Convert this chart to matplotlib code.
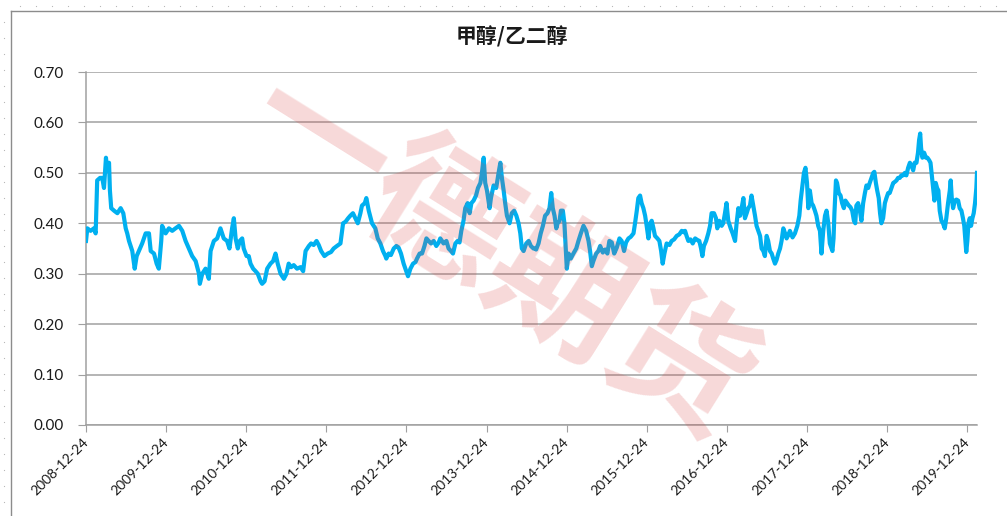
import matplotlib
matplotlib.use("Agg")
import matplotlib.pyplot as plt
from matplotlib.lines import Line2D
import numpy as np
import pandas as pd

plt.rcParams['font.family'] = ['Lato', 'Noto Sans CJK SC', 'DejaVu Sans']

title = "甲醇/乙二醇"
watermark = "一德期货"

# methanol / ethylene glycol price ratio
dates = [
    "2008-12-24", "2008-12-30", "2009-01-14", "2009-01-29", "2009-02-06", "2009-02-13",
    "2009-02-26", "2009-03-08", "2009-03-16", "2009-03-25", "2009-03-31", "2009-04-08",
    "2009-04-12", "2009-04-18", "2009-05-01", "2009-05-16", "2009-05-31", "2009-06-12",
    "2009-06-23", "2009-06-30", "2009-07-08", "2009-07-23", "2009-08-03", "2009-08-12",
    "2009-08-22", "2009-09-06", "2009-09-22", "2009-10-07", "2009-10-15", "2009-10-30",
    "2009-11-11", "2009-11-21", "2009-12-02", "2009-12-06", "2009-12-22", "2010-01-06",
    "2010-01-21", "2010-02-05", "2010-02-21", "2010-03-08", "2010-03-23", "2010-04-07",
    "2010-04-22", "2010-05-08", "2010-05-23", "2010-05-27", "2010-06-07", "2010-06-22",
    "2010-07-07", "2010-07-15", "2010-07-30", "2010-08-14", "2010-08-29", "2010-09-13",
    "2010-09-28", "2010-10-09", "2010-10-21", "2010-10-29", "2010-11-06", "2010-11-16",
    "2010-11-25", "2010-12-06", "2010-12-13", "2010-12-26", "2011-01-05", "2011-01-13",
    "2011-01-25", "2011-02-05", "2011-02-15", "2011-02-28", "2011-03-07", "2011-03-18",
    "2011-03-30", "2011-04-14", "2011-04-26", "2011-05-07", "2011-05-17", "2011-05-30",
    "2011-06-14", "2011-06-26", "2011-07-06", "2011-07-17", "2011-07-29", "2011-08-13",
    "2011-08-29", "2011-09-10", "2011-09-21", "2011-10-06", "2011-10-16", "2011-10-28",
    "2011-11-10", "2011-11-20", "2011-12-01", "2011-12-16", "2011-12-31", "2012-01-15",
    "2012-01-27", "2012-02-11", "2012-02-27", "2012-03-10", "2012-03-21", "2012-04-02",
    "2012-04-12", "2012-04-24", "2012-05-05", "2012-05-16", "2012-05-28", "2012-06-04",
    "2012-06-17", "2012-06-24", "2012-07-05", "2012-07-20", "2012-08-04", "2012-08-15",
    "2012-08-27", "2012-09-08", "2012-09-19", "2012-09-23", "2012-10-04", "2012-10-14",
    "2012-10-27", "2012-11-08", "2012-11-18", "2012-11-29", "2012-12-11", "2012-12-23",
    "2012-12-31", "2013-01-11", "2013-01-23", "2013-02-03", "2013-02-10", "2013-02-22",
    "2013-03-05", "2013-03-16", "2013-03-25", "2013-04-04", "2013-04-15", "2013-04-27",
    "2013-05-09", "2013-05-20", "2013-05-27", "2013-06-04", "2013-06-11", "2013-06-24",
    "2013-07-04", "2013-07-15", "2013-07-24", "2013-08-04", "2013-08-14", "2013-08-23",
    "2013-08-31", "2013-09-10", "2013-09-18", "2013-09-29", "2013-10-08", "2013-10-16",
    "2013-10-26", "2013-11-06", "2013-11-15", "2013-11-26", "2013-12-03", "2013-12-11",
    "2013-12-18", "2013-12-26", "2014-01-07", "2014-01-13", "2014-01-25", "2014-02-06",
    "2014-02-17", "2014-02-25", "2014-03-04", "2014-03-12", "2014-03-19", "2014-03-27",
    "2014-04-08", "2014-04-18", "2014-04-29", "2014-05-09", "2014-05-19", "2014-05-27",
    "2014-06-03", "2014-06-11", "2014-06-23", "2014-07-04", "2014-07-14", "2014-07-26",
    "2014-08-03", "2014-08-07", "2014-08-18", "2014-08-28", "2014-09-07", "2014-09-17",
    "2014-09-28", "2014-10-07", "2014-10-15", "2014-10-22", "2014-10-30", "2014-11-07",
    "2014-11-13", "2014-11-22", "2014-11-28", "2014-12-07", "2014-12-14", "2014-12-20",
    "2014-12-25", "2015-01-02", "2015-01-12", "2015-01-24", "2015-02-06", "2015-02-16",
    "2015-02-27", "2015-03-11", "2015-03-23", "2015-04-03", "2015-04-10", "2015-04-18",
    "2015-04-25", "2015-05-08", "2015-05-18", "2015-05-26", "2015-06-07", "2015-06-18",
    "2015-06-28", "2015-07-07", "2015-07-18", "2015-07-29", "2015-08-10", "2015-08-22",
    "2015-09-01", "2015-09-12", "2015-09-21", "2015-10-02", "2015-10-12", "2015-10-25",
    "2015-11-01", "2015-11-09", "2015-11-16", "2015-11-24", "2015-12-01", "2015-12-09",
    "2015-12-17", "2015-12-24", "2016-01-01", "2016-01-09", "2016-01-16", "2016-01-24",
    "2016-01-31", "2016-02-11", "2016-02-20", "2016-02-28", "2016-03-06", "2016-03-14",
    "2016-03-24", "2016-04-06", "2016-04-16", "2016-04-27", "2016-05-09", "2016-05-21",
    "2016-06-01", "2016-06-11", "2016-06-16", "2016-06-23", "2016-07-01", "2016-07-11",
    "2016-07-21", "2016-08-01", "2016-08-11", "2016-08-20", "2016-08-28", "2016-09-03",
    "2016-09-10", "2016-09-20", "2016-09-30", "2016-10-08", "2016-10-15", "2016-10-26",
    "2016-11-04", "2016-11-10", "2016-11-19", "2016-11-30", "2016-12-07", "2016-12-15",
    "2016-12-22", "2016-12-30", "2017-01-10", "2017-01-19", "2017-01-30", "2017-02-06",
    "2017-02-14", "2017-02-22", "2017-03-01", "2017-03-09", "2017-03-16", "2017-03-24",
    "2017-03-31", "2017-04-08", "2017-04-15", "2017-04-23", "2017-05-01", "2017-05-08",
    "2017-05-16", "2017-05-24", "2017-05-31", "2017-06-08", "2017-06-15", "2017-06-23",
    "2017-06-30", "2017-07-08", "2017-07-16", "2017-07-23", "2017-07-31", "2017-08-07",
    "2017-08-15", "2017-08-23", "2017-08-30", "2017-09-07", "2017-09-15", "2017-09-22",
    "2017-09-30", "2017-10-07", "2017-10-19", "2017-10-30", "2017-11-10", "2017-11-19",
    "2017-11-25", "2017-12-02", "2017-12-10", "2017-12-17", "2017-12-24", "2017-12-30",
    "2018-01-06", "2018-01-14", "2018-01-21", "2018-01-29", "2018-02-05", "2018-02-13",
    "2018-02-21", "2018-02-28", "2018-03-08", "2018-03-16", "2018-03-23", "2018-03-31",
    "2018-04-07", "2018-04-15", "2018-04-19", "2018-04-24", "2018-04-28", "2018-05-05",
    "2018-05-10", "2018-05-18", "2018-05-26", "2018-06-02", "2018-06-10", "2018-06-17",
    "2018-06-25", "2018-07-03", "2018-07-10", "2018-07-18", "2018-07-26", "2018-08-01",
    "2018-08-06", "2018-08-14", "2018-08-22", "2018-08-29", "2018-09-06", "2018-09-14",
    "2018-09-21", "2018-09-29", "2018-10-06", "2018-10-14", "2018-10-22", "2018-10-27",
    "2018-11-03", "2018-11-09", "2018-11-16", "2018-11-22", "2018-11-28", "2018-12-06",
    "2018-12-14", "2018-12-21", "2018-12-29", "2019-01-05", "2019-01-13", "2019-01-21",
    "2019-01-28", "2019-02-05", "2019-02-12", "2019-02-20", "2019-02-27", "2019-03-07",
    "2019-03-15", "2019-03-22", "2019-03-30", "2019-04-07", "2019-04-14", "2019-04-22",
    "2019-04-29", "2019-05-07", "2019-05-14", "2019-05-19", "2019-05-24", "2019-05-28",
    "2019-06-03", "2019-06-11", "2019-06-19", "2019-06-26", "2019-07-04", "2019-07-10",
    "2019-07-16", "2019-07-22", "2019-07-28", "2019-08-03", "2019-08-09", "2019-08-15",
    "2019-08-21", "2019-08-29", "2019-09-05", "2019-09-13", "2019-09-20", "2019-09-28",
    "2019-10-06", "2019-10-10", "2019-10-15", "2019-10-21", "2019-10-29", "2019-11-05",
    "2019-11-13", "2019-11-20", "2019-11-28", "2019-12-05", "2019-12-11", "2019-12-16",
    "2019-12-20", "2019-12-25", "2019-12-30", "2020-01-05", "2020-01-11", "2020-01-17",
    "2020-01-23", "2020-01-29", "2020-02-04", "2020-02-07",
]
ratio = [
    0.365, 0.39, 0.385, 0.39, 0.38, 0.485,
    0.49, 0.49, 0.47, 0.53, 0.505, 0.52,
    0.465, 0.43, 0.425, 0.42, 0.43, 0.42,
    0.39, 0.38, 0.365, 0.345, 0.31, 0.335,
    0.345, 0.36, 0.38, 0.38, 0.345, 0.34,
    0.32, 0.31, 0.365, 0.395, 0.38, 0.39,
    0.385, 0.39, 0.395, 0.385, 0.365, 0.35,
    0.335, 0.325, 0.30, 0.28, 0.30, 0.31,
    0.29, 0.345, 0.365, 0.37, 0.39, 0.37,
    0.365, 0.35, 0.39, 0.41, 0.37, 0.35,
    0.365, 0.37, 0.35, 0.335, 0.335, 0.32,
    0.31, 0.305, 0.30, 0.285, 0.28, 0.285,
    0.31, 0.32, 0.325, 0.34, 0.32, 0.30,
    0.29, 0.30, 0.32, 0.313, 0.317, 0.31,
    0.313, 0.305, 0.345, 0.355, 0.36, 0.357,
    0.365, 0.357, 0.345, 0.335, 0.34, 0.343,
    0.35, 0.355, 0.36, 0.40, 0.403, 0.41,
    0.415, 0.42, 0.41, 0.40, 0.42, 0.435,
    0.44, 0.45, 0.425, 0.40, 0.39, 0.37,
    0.36, 0.345, 0.335, 0.33, 0.34, 0.337,
    0.35, 0.355, 0.352, 0.34, 0.32, 0.305,
    0.295, 0.31, 0.32, 0.323, 0.33, 0.34,
    0.34, 0.355, 0.37, 0.365, 0.36, 0.365,
    0.355, 0.362, 0.37, 0.365, 0.36, 0.365,
    0.35, 0.345, 0.34, 0.36, 0.365, 0.362,
    0.385, 0.405, 0.43, 0.44, 0.42, 0.44,
    0.445, 0.455, 0.47, 0.48, 0.50, 0.53,
    0.48, 0.465, 0.43, 0.45, 0.475, 0.47,
    0.50, 0.52, 0.49, 0.465, 0.44, 0.415,
    0.40, 0.42, 0.425, 0.415, 0.40, 0.38,
    0.35, 0.345, 0.36, 0.365, 0.355, 0.35,
    0.35, 0.348, 0.36, 0.38, 0.395, 0.415,
    0.42, 0.43, 0.46, 0.43, 0.415, 0.39,
    0.40, 0.405, 0.425, 0.425, 0.40, 0.35,
    0.31, 0.34, 0.33, 0.34, 0.35, 0.365,
    0.38, 0.395, 0.385, 0.365, 0.345, 0.315,
    0.325, 0.34, 0.345, 0.355, 0.342, 0.348,
    0.34, 0.365, 0.362, 0.34, 0.352, 0.37,
    0.365, 0.345, 0.362, 0.37, 0.373, 0.38,
    0.40, 0.425, 0.45, 0.455, 0.44, 0.43,
    0.415, 0.395, 0.37, 0.40, 0.405, 0.39,
    0.375, 0.37, 0.365, 0.345, 0.32, 0.34,
    0.36, 0.357, 0.365, 0.368, 0.375, 0.378,
    0.385, 0.382, 0.385, 0.375, 0.365, 0.368,
    0.36, 0.37, 0.367, 0.365, 0.35, 0.335,
    0.355, 0.365, 0.38, 0.395, 0.42, 0.42,
    0.41, 0.39, 0.405, 0.395, 0.40, 0.42,
    0.44, 0.405, 0.39, 0.38, 0.365, 0.40,
    0.43, 0.415, 0.43, 0.45, 0.41, 0.42,
    0.43, 0.435, 0.455, 0.435, 0.415, 0.395,
    0.385, 0.375, 0.35, 0.345, 0.335, 0.375,
    0.365, 0.345, 0.34, 0.33, 0.32, 0.327,
    0.34, 0.35, 0.365, 0.39, 0.38, 0.37,
    0.377, 0.385, 0.372, 0.38, 0.395, 0.415,
    0.445, 0.47, 0.50, 0.51, 0.48, 0.43,
    0.465, 0.44, 0.435, 0.425, 0.415, 0.395,
    0.385, 0.34, 0.385, 0.415, 0.425, 0.40,
    0.36, 0.35, 0.345, 0.37, 0.42, 0.485,
    0.48, 0.46, 0.455, 0.44, 0.43, 0.445,
    0.44, 0.435, 0.432, 0.425, 0.405, 0.40,
    0.435, 0.44, 0.425, 0.405, 0.44, 0.46,
    0.475, 0.47, 0.48, 0.49, 0.50, 0.502,
    0.48, 0.465, 0.45, 0.42, 0.40, 0.41,
    0.44, 0.45, 0.46, 0.46, 0.47, 0.48,
    0.482, 0.485, 0.49, 0.49, 0.495, 0.495,
    0.50, 0.495, 0.51, 0.52, 0.515, 0.505,
    0.52, 0.52, 0.54, 0.565, 0.578, 0.55,
    0.53, 0.54, 0.53, 0.53, 0.525, 0.52,
    0.495, 0.47, 0.445, 0.48, 0.47, 0.465,
    0.425, 0.405, 0.40, 0.39, 0.41, 0.44,
    0.465, 0.485, 0.45, 0.43, 0.445, 0.447,
    0.445, 0.43, 0.425, 0.41, 0.395, 0.365,
    0.343, 0.365, 0.40, 0.41, 0.395, 0.41,
    0.42, 0.44, 0.47, 0.50,
]
tick_dates = ["2008-12-24", "2009-12-24", "2010-12-24", "2011-12-24", "2012-12-24",
              "2013-12-24", "2014-12-24", "2015-12-24", "2016-12-24", "2017-12-24",
              "2018-12-24", "2019-12-24"]
y_ticks = [0.0, 0.1, 0.2, 0.3, 0.4, 0.5, 0.6, 0.7]

x = pd.to_datetime(dates)

W, H = 1007, 516
fig = plt.figure(figsize=(W / 100, H / 100), dpi=100)
ax = fig.add_axes([86 / W, 91 / H, 891 / W, 353 / H])

ax.plot(x, ratio, color='#00b0f0', lw=3.0, solid_joinstyle='round', zorder=3)

ax.set_ylim(0, 0.7)
ax.set_xlim(x[0], x[-1])
ax.set_yticks(y_ticks)
ax.set_yticklabels([f"{v:.2f}" for v in y_ticks])
ax.set_xticks(pd.to_datetime(tick_dates))
ax.set_xticklabels(tick_dates, rotation=45, ha='right', va='center', rotation_mode='anchor')

ax.grid(axis='y', color='#a0a0a0', lw=1.1)
ax.set_axisbelow(True)
for s in ['top', 'right']:
    ax.spines[s].set_visible(False)
for s in ['left', 'bottom']:
    ax.spines[s].set_color('#a0a0a0')
    ax.spines[s].set_linewidth(1.1)
ax.tick_params(axis='y', length=6, color='#a0a0a0', labelsize=11, pad=10, labelcolor='#1a1a1a')
ax.tick_params(axis='x', length=5, color='#a0a0a0', labelsize=10, pad=6, labelcolor='#1a1a1a')

fig.text(512 / W, 1 - 37 / H, title, ha='center', va='center', fontsize=15,
         fontweight='bold', family=['Noto Sans CJK SC', 'DejaVu Sans'], color='#1a1a1a')

# watermark
fig.text(498 / W, 1 - 258 / H, watermark, ha='center', va='center', rotation=-32,
         rotation_mode='anchor', fontsize=102, fontweight='bold',
         family=['Noto Sans CJK SC'], color='#d84040', alpha=0.2, zorder=10)

# excel chart frame and sheet dots
fig.add_artist(Line2D([10.5 / W, 10.5 / W], [0, 1 - 10.5 / H], color='#8c8c8c', lw=1))
fig.add_artist(Line2D([10.5 / W, 1], [1 - 10.5 / H, 1 - 10.5 / H], color='#8c8c8c', lw=1))
dx = np.arange(20, W, 16)
dy = np.arange(22, H, 16)
fig.add_artist(Line2D(dx / W, np.full(len(dx), 1 - 6 / H), ls='none', marker='s',
                      ms=0.8, color='#b8b8b8', mew=0))
fig.add_artist(Line2D(np.full(len(dy), 3.5 / W), 1 - dy / H, ls='none', marker='s',
                      ms=0.8, color='#b8b8b8', mew=0))

fig.savefig("out.png", dpi=100)
